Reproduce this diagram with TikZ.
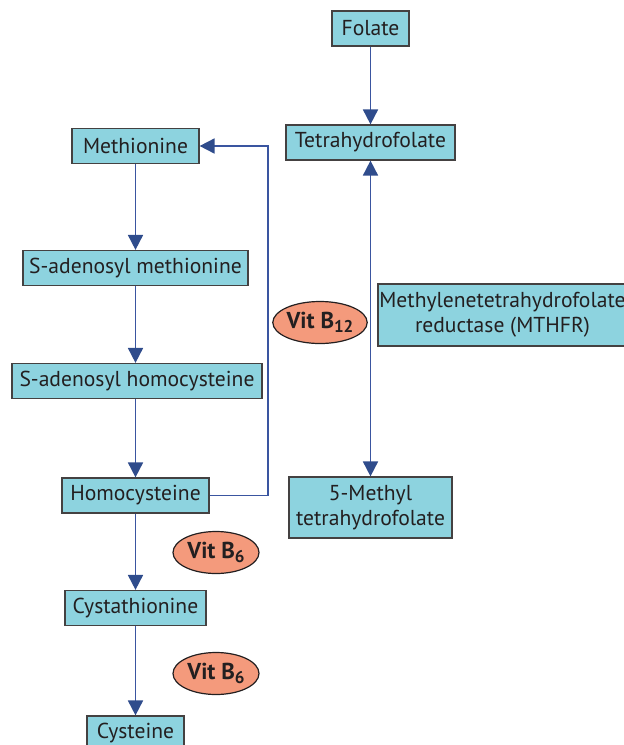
\documentclass[tikz,border=0pt]{standalone}
\usepackage{fontspec}
\setmainfont{PT Sans}
\usepackage{xcolor}
\usetikzlibrary{arrows.meta,shapes.geometric}
\definecolor{boxfill}{HTML}{8DD3DF}
\definecolor{ellfill}{HTML}{F49A7C}
\definecolor{linkblue}{HTML}{3A55A0}
\definecolor{tipblue}{HTML}{2F4C8C}
\definecolor{inkgray}{HTML}{231F20}
\newcommand{\vitsub}[1]{\raisebox{-0.3ex}{\fontsize{8.5}{9}\selectfont #1}}

\begin{document}
\begin{tikzpicture}[x=0.5pt,y=-0.5pt,
  metab/.style={draw=inkgray!85,fill=boxfill,line width=0.6pt,inner sep=0pt,minimum height=17.5pt,
    text=inkgray,align=center,font=\fontsize{10.8}{12.5}\selectfont},
  vit/.style={ellipse,draw=inkgray,fill=ellfill,line width=0.6pt,inner sep=0pt,minimum width=43pt,
    minimum height=21pt,text=inkgray,font=\fontsize{11.5}{12}\selectfont\bfseries},
  link/.style={draw=linkblue,line width=0.9pt,-{Triangle[width=7.5pt,length=7.5pt,color=tipblue]}}]
  \useasboundingbox (0,0) rectangle (624,745);
  % folate side
  \node[metab,minimum width=38.5pt] (fol) at (370.5,28.5) {Folate};
  \node[metab,minimum width=84.5pt] (thf) at (370.5,142.5) {Tetrahydrofolate};
  \node[metab,minimum width=124.5pt,minimum height=31pt] (mthfr) at (502.5,315) {Methylenetetrahydrofolate\\reductase (MTHFR)};
  \node[metab,minimum width=81.5pt,minimum height=30.5pt] (mthf) at (370.5,507.5) {5-Methyl\\tetrahydrofolate};
  % methionine cycle
  \node[metab,minimum width=63.5pt] (met) at (135.5,146) {Methionine};
  \node[metab,minimum width=112.5pt] (sam) at (135.5,268) {S-adenosyl methionine};
  \node[metab,minimum width=125pt] (sah) at (137,381) {S-adenosyl homocysteine};
  \node[metab,minimum width=73.5pt] (hcy) at (135.5,495.5) {Homocysteine};
  \node[metab,minimum width=70.5pt] (cth) at (135.5,608) {Cystathionine};
  \node[metab,minimum width=48.5pt] (cys) at (135.5,733.5) {Cysteine};
  % vitamins
  \node[vit] (b12) at (320,322.5) {Vit B\vitsub{12}};
  \node[vit] (b6a) at (216,552.5) {Vit B\vitsub{6}};
  \node[vit] (b6b) at (216,673.5) {Vit B\vitsub{6}};
  \coordinate (loop) at (268,0);
  \draw[link] (fol) -- (thf);
  \draw[link,{Triangle[width=7.5pt,length=7.5pt,color=tipblue]}-{Triangle[width=7.5pt,length=7.5pt,color=tipblue]}] (thf) -- (mthf);
  \draw[link] (met) -- (sam);
  \draw[link] (sam) -- (sam |- sah.north);
  \draw[link] (sah.south -| hcy) -- (hcy);
  \draw[link] (hcy) -- (cth);
  \draw[link] (cth) -- (cys);
  \draw[link] (hcy.east) -| (loop |- met.east) -- (met.east);
\end{tikzpicture}
\end{document}
